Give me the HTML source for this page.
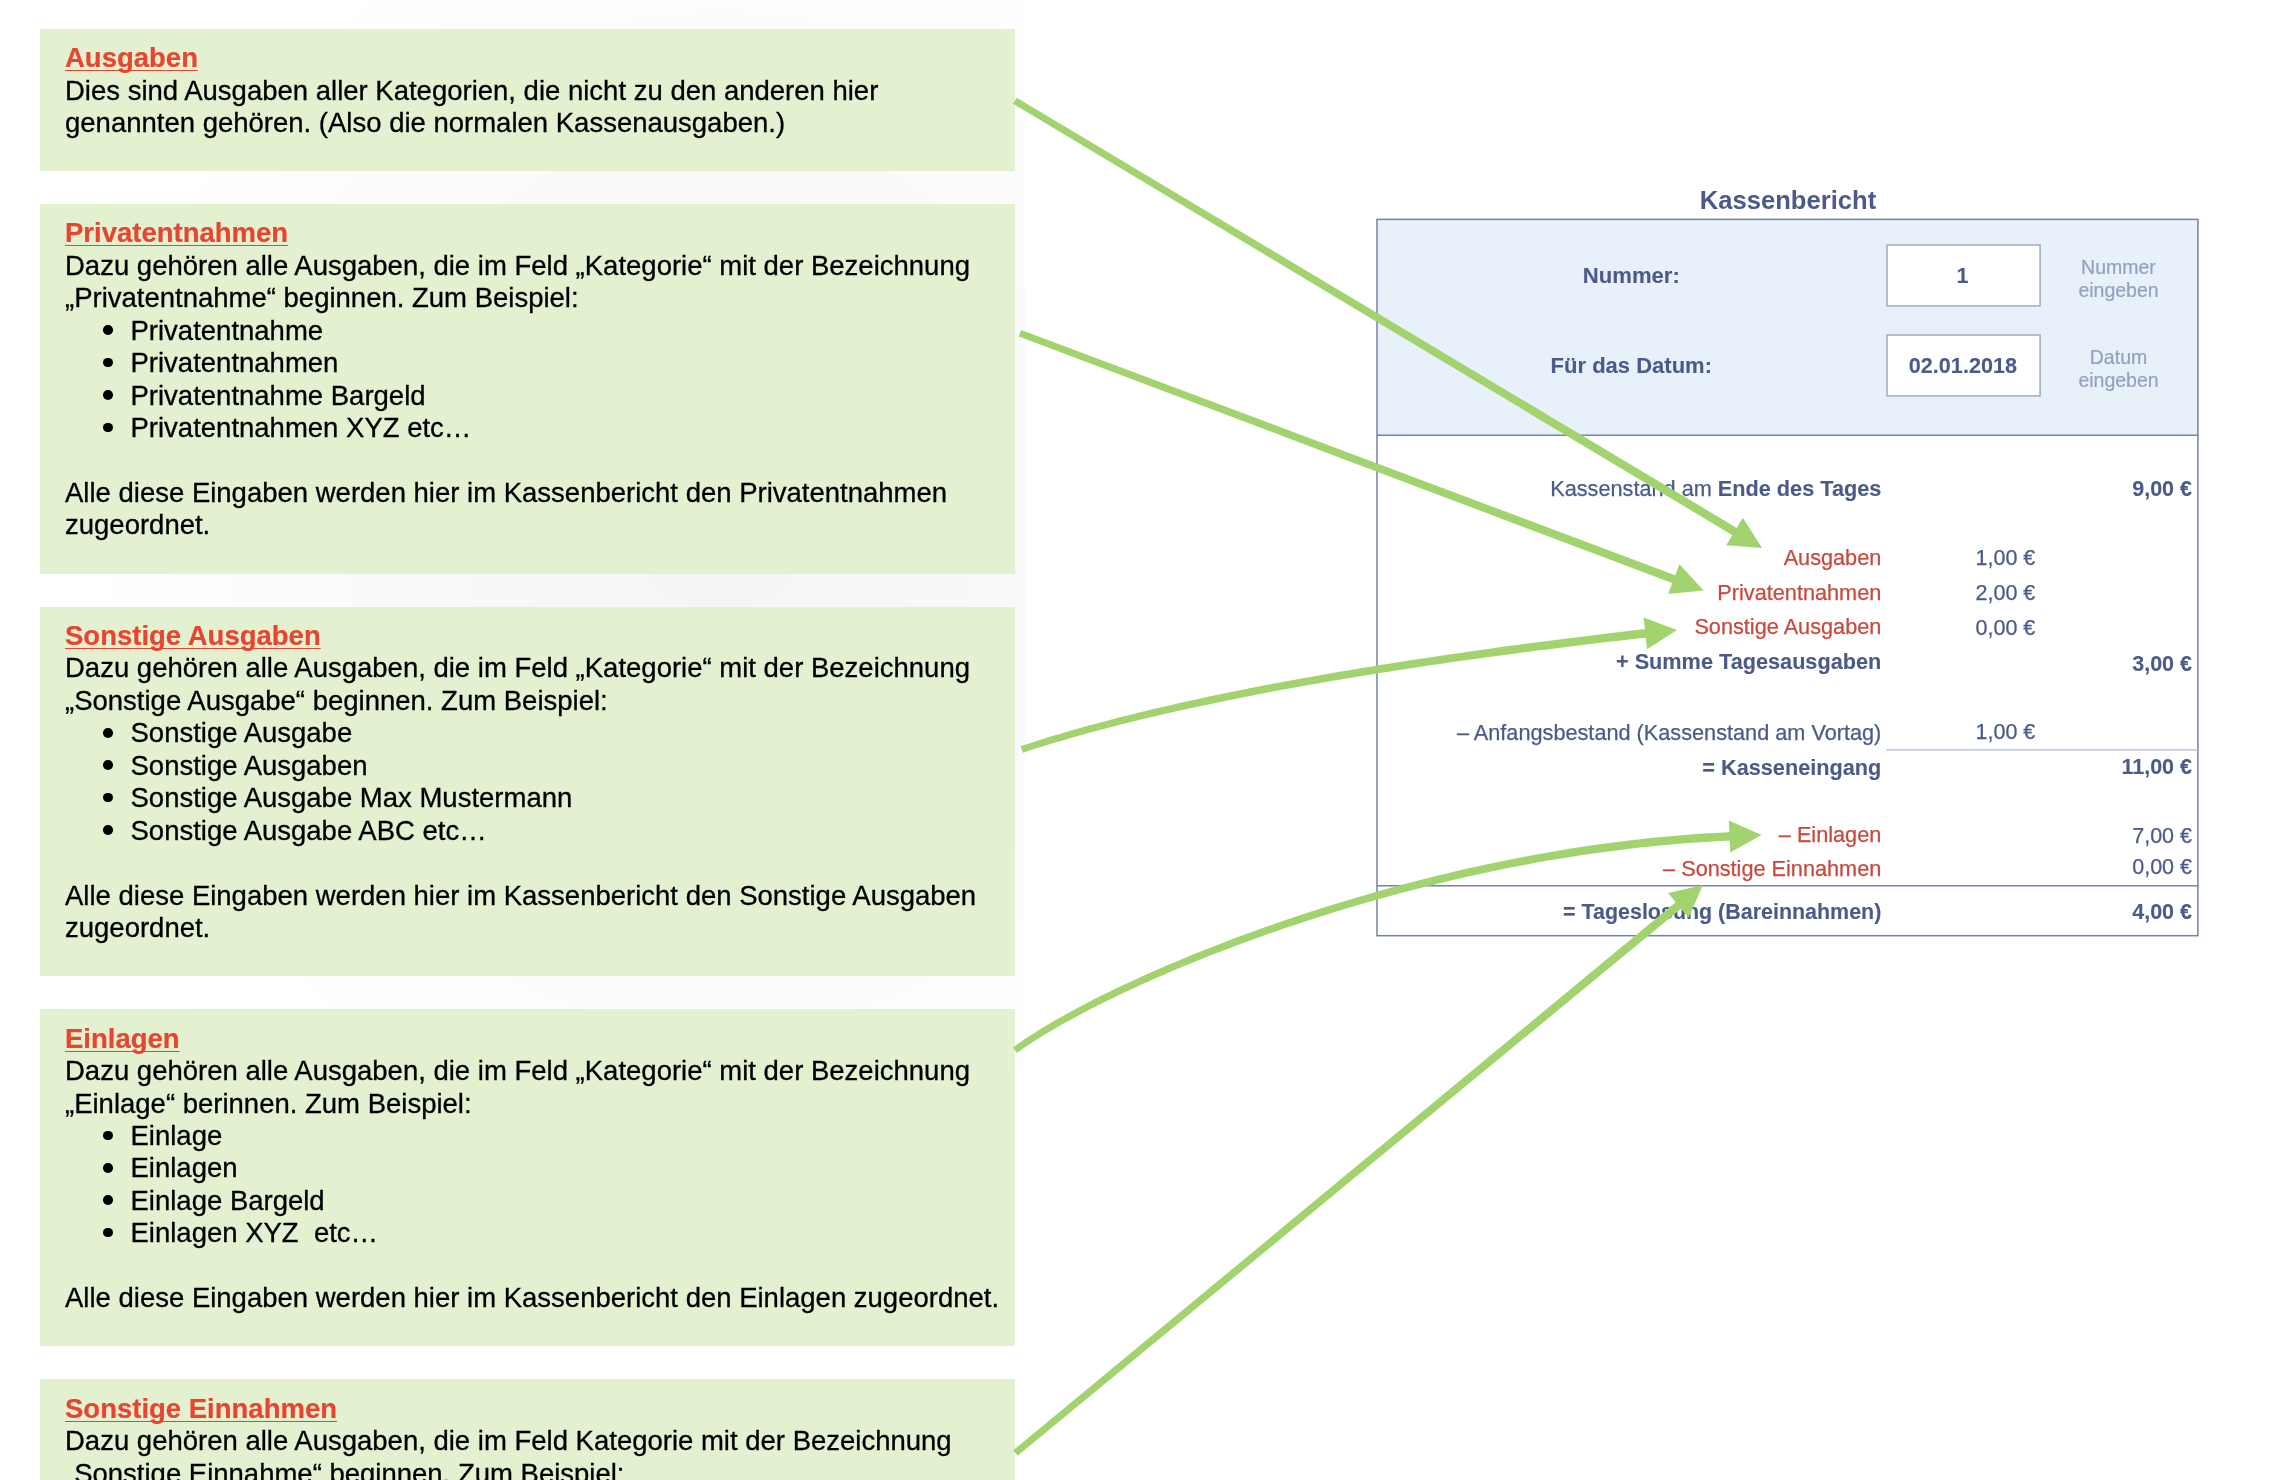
<!DOCTYPE html>
<html lang="de"><head><meta charset="utf-8"><title>Kassenbericht</title>
<style>
html,body{margin:0;padding:0;background:#fff;}
body{width:2276px;height:1480px;position:relative;overflow:hidden;font-family:"Liberation Sans",sans-serif;}
.abs{position:absolute;white-space:nowrap;}
.box{position:absolute;left:40px;width:975px;background:#e3f1d1;}
.t{position:absolute;left:65px;white-space:nowrap;font-size:27.5px;line-height:32.45px;color:#000;-webkit-text-stroke:0.3px #000;}
.h{font-weight:bold;color:#e8442f;-webkit-text-stroke:0.2px #e8442f;text-decoration:underline;text-decoration-thickness:1.4px;text-underline-offset:2.6px;text-decoration-skip-ink:none;}
.li{left:130.5px;}
.dot{position:absolute;width:9.6px;height:9.6px;border-radius:50%;background:#000;left:103px;}
.p{position:absolute;white-space:nowrap;font-size:21.5px;line-height:26px;color:#4b5a89;-webkit-text-stroke:0.25px currentColor;}
.p.b,.p b{-webkit-text-stroke:0.1px currentColor;}
.r{text-align:right;}
.b{font-weight:bold;}
.red{color:#c8493e;}
.hint{position:absolute;white-space:nowrap;font-size:19.5px;line-height:23.6px;color:#93a1c0;-webkit-text-stroke:0.2px currentColor;text-align:center;width:120px;left:2058.5px;}
.inp{position:absolute;left:1886.1px;width:154.8px;height:62.7px;background:#fff;border:1.7px solid #9aa8c0;box-sizing:border-box;}
</style></head><body><div id="root" style="position:absolute;left:0;top:0;width:2276px;height:1480px;will-change:transform;">

<div style="position:absolute;left:0;top:0;width:1025px;height:1480px;background:radial-gradient(ellipse 640px 660px at 720px 520px,rgba(0,0,0,0.042),rgba(0,0,0,0) 100%);"></div>
<div class="box" style="top:29px;height:142.3px"></div>
<div class="t h" style="top:42.42px">Ausgaben</div>
<div class="t" style="top:74.88px">Dies sind Ausgaben aller Kategorien, die nicht zu den anderen hier</div>
<div class="t" style="top:107.33px">genannten gehören. (Also die normalen Kassenausgaben.)</div>
<div class="box" style="top:204px;height:369.5px"></div>
<div class="t h" style="top:217.43px">Privatentnahmen</div>
<div class="t" style="top:249.88px">Dazu gehören alle Ausgaben, die im Feld „Kategorie“ mit der Bezeichnung</div>
<div class="t" style="top:282.32px">„Privatentnahme“ beginnen. Zum Beispiel:</div>
<div class="dot" style="top:325.35px"></div><div class="t li" style="top:314.77px">Privatentnahme</div>
<div class="dot" style="top:357.80px"></div><div class="t li" style="top:347.22px">Privatentnahmen</div>
<div class="dot" style="top:390.25px"></div><div class="t li" style="top:379.68px">Privatentnahme Bargeld</div>
<div class="dot" style="top:422.70px"></div><div class="t li" style="top:412.12px">Privatentnahmen XYZ etc…</div>
<div class="t" style="top:477.03px">Alle diese Eingaben werden hier im Kassenbericht den Privatentnahmen</div>
<div class="t" style="top:509.47px">zugeordnet.</div>
<div class="box" style="top:606.6px;height:369.5px"></div>
<div class="t h" style="top:620.02px">Sonstige Ausgaben</div>
<div class="t" style="top:652.48px">Dazu gehören alle Ausgaben, die im Feld „Kategorie“ mit der Bezeichnung</div>
<div class="t" style="top:684.92px">„Sonstige Ausgabe“ beginnen. Zum Beispiel:</div>
<div class="dot" style="top:727.95px"></div><div class="t li" style="top:717.38px">Sonstige Ausgabe</div>
<div class="dot" style="top:760.40px"></div><div class="t li" style="top:749.82px">Sonstige Ausgaben</div>
<div class="dot" style="top:792.85px"></div><div class="t li" style="top:782.27px">Sonstige Ausgabe Max Mustermann</div>
<div class="dot" style="top:825.30px"></div><div class="t li" style="top:814.73px">Sonstige Ausgabe ABC etc…</div>
<div class="t" style="top:879.62px">Alle diese Eingaben werden hier im Kassenbericht den Sonstige Ausgaben</div>
<div class="t" style="top:912.07px">zugeordnet.</div>
<div class="box" style="top:1009.2px;height:336.70000000000005px"></div>
<div class="t h" style="top:1022.62px">Einlagen</div>
<div class="t" style="top:1055.08px">Dazu gehören alle Ausgaben, die im Feld „Kategorie“ mit der Bezeichnung</div>
<div class="t" style="top:1087.53px">„Einlage“ berinnen. Zum Beispiel:</div>
<div class="dot" style="top:1130.55px"></div><div class="t li" style="top:1119.97px">Einlage</div>
<div class="dot" style="top:1163.00px"></div><div class="t li" style="top:1152.42px">Einlagen</div>
<div class="dot" style="top:1195.45px"></div><div class="t li" style="top:1184.88px">Einlage Bargeld</div>
<div class="dot" style="top:1227.90px"></div><div class="t li" style="top:1217.33px">Einlagen XYZ&nbsp; etc…</div>
<div class="t" style="top:1282.23px">Alle diese Eingaben werden hier im Kassenbericht den Einlagen zugeordnet.</div>
<div class="box" style="top:1379.4px;height:120.59999999999991px"></div>
<div class="t h" style="top:1392.83px">Sonstige Einnahmen</div>
<div class="t" style="top:1425.28px">Dazu gehören alle Ausgaben, die im Feld Kategorie mit der Bezeichnung</div>
<div class="t" style="top:1457.73px">„Sonstige Einnahme“ beginnen. Zum Beispiel:</div>
<div class="dot" style="top:1500.75px"></div><div class="t li" style="top:1490.17px">Sonstige Einnahme</div>
<div class="abs b" style="left:1588px;width:400px;text-align:center;font-size:25.6px;line-height:30px;color:#4b5a89;top:185.35px">Kassenbericht</div>
<svg class="abs" style="left:0;top:0" width="2276" height="1480" viewBox="0 0 2276 1480">
<rect x="1377.0" y="219.4" width="820.9" height="716.3" fill="#fff"/>
<rect x="1377.0" y="219.4" width="820.9" height="215.9" fill="#e8f1fa"/>
<g fill="none" stroke="#7384a3" stroke-width="1.5">
<rect x="1377.0" y="219.4" width="820.9" height="716.3"/>
<path d="M1377.0,435.3 H2197.9 M1377.0,885.7 H2197.9"/>
</g>
<path d="M1886,749.8 H2197.9" stroke="#aebad2" stroke-width="1.3" fill="none"/>
<g fill="#fff" stroke="#9eabc3" stroke-width="1.5">
<rect x="1887" y="245" width="153.1" height="60.9"/>
<rect x="1887" y="335" width="153.1" height="60.9"/>
</g>
</svg>
<div class="p b" style="left:1431.3px;width:400px;text-align:center;top:263.45px;font-size:22.1px;">Nummer:</div>
<div class="p b" style="left:1431.3px;width:400px;text-align:center;top:353.45px;font-size:22.0px;">Für das Datum:</div>
<div class="p b" style="left:1762.6px;width:400px;text-align:center;top:263.20px;font-size:21.5px;">1</div>
<div class="p b" style="left:1762.9px;width:400px;text-align:center;top:353.25px;font-size:21.6px;">02.01.2018</div>
<div class="hint" style="top:255.55px">Nummer<br>eingeben</div>
<div class="hint" style="top:345.55px">Datum<br>eingeben</div>
<div class="p " style="right:394.7px;top:475.85px;font-size:21.7px;">Kassenstand am <b>Ende des Tages</b></div>
<div class="p b" style="right:84.0px;top:475.70px;font-size:21.5px;">9,00 €</div>
<div class="p red" style="right:394.7px;top:544.75px;font-size:21.7px;">Ausgaben</div>
<div class="p " style="right:240.7px;top:545.10px;font-size:21.5px;">1,00 €</div>
<div class="p red" style="right:394.7px;top:579.55px;font-size:21.7px;">Privatentnahmen</div>
<div class="p " style="right:240.7px;top:579.50px;font-size:21.5px;">2,00 €</div>
<div class="p red" style="right:394.7px;top:614.25px;font-size:21.7px;">Sonstige Ausgaben</div>
<div class="p " style="right:240.7px;top:614.50px;font-size:21.5px;">0,00 €</div>
<div class="p b" style="right:394.7px;top:648.75px;font-size:21.7px;">+ Summe Tagesausgaben</div>
<div class="p b" style="right:84.0px;top:650.80px;font-size:21.5px;">3,00 €</div>
<div class="p " style="right:394.7px;top:719.85px;font-size:21.7px;">– Anfangsbestand (Kassenstand am Vortag)</div>
<div class="p " style="right:240.7px;top:718.90px;font-size:21.5px;">1,00 €</div>
<div class="p b" style="right:394.7px;top:754.65px;font-size:21.7px;">= Kasseneingang</div>
<div class="p b" style="right:84.0px;top:754.30px;font-size:21.5px;">11,00 €</div>
<div class="p red" style="right:394.7px;top:822.45px;font-size:21.7px;">– Einlagen</div>
<div class="p " style="right:84.0px;top:823.20px;font-size:21.5px;">7,00 €</div>
<div class="p red" style="right:394.7px;top:855.65px;font-size:21.7px;">– Sonstige Einnahmen</div>
<div class="p " style="right:84.0px;top:854.30px;font-size:21.5px;">0,00 €</div>
<div class="p b" style="right:394.7px;top:899.45px;font-size:21.45px;">= Tageslosung (Bareinnahmen)</div>
<div class="p b" style="right:84.0px;top:899.10px;font-size:21.5px;">4,00 €</div>
<svg class="abs" style="left:0;top:0" width="2276" height="1480" viewBox="0 0 2276 1480"><g fill="#a3d36f" stroke="none">
<path d="M1013.1,103.7 L1373.6,319.9 L1734.1,536.2 L1738.4,528.9 L1377.6,313.3 L1016.7,97.7Z"/><path d="M1762.0,548.0 L1726.3,545.3 L1742.8,517.8Z"/>
<path d="M1018.8,336.5 L1346.5,460.2 L1674.1,583.8 L1677.1,575.9 L1349.2,453.0 L1021.2,330.1Z"/><path d="M1703.7,590.4 L1668.1,594.1 L1679.4,564.2Z"/>
<path d="M1022.9,752.7 L1028.1,751.0 L1033.4,749.3 L1038.8,747.6 L1044.2,745.9 L1049.7,744.2 L1055.2,742.5 L1060.9,740.9 L1066.5,739.2 L1072.3,737.5 L1078.1,735.9 L1084.0,734.3 L1090.0,732.6 L1096.0,731.0 L1102.0,729.4 L1108.2,727.8 L1114.4,726.2 L1120.7,724.6 L1127.0,723.0 L1133.4,721.4 L1139.9,719.8 L1146.4,718.2 L1153.0,716.7 L1159.7,715.1 L1166.4,713.5 L1173.2,712.0 L1180.1,710.5 L1187.0,708.9 L1194.0,707.4 L1201.1,705.9 L1208.2,704.4 L1215.4,702.9 L1222.7,701.4 L1230.0,699.9 L1237.4,698.4 L1244.8,696.9 L1252.3,695.4 L1259.9,694.0 L1267.6,692.5 L1275.3,691.1 L1283.1,689.6 L1290.9,688.2 L1298.8,686.7 L1306.8,685.3 L1314.8,683.9 L1322.9,682.5 L1331.1,681.1 L1339.3,679.7 L1347.6,678.3 L1356.0,676.9 L1364.4,675.5 L1372.9,674.2 L1381.5,672.8 L1390.1,671.4 L1398.8,670.1 L1407.6,668.7 L1416.4,667.4 L1425.3,666.1 L1434.2,664.8 L1443.3,663.4 L1452.4,662.1 L1461.5,660.8 L1470.7,659.5 L1480.0,658.2 L1489.3,657.0 L1498.8,655.7 L1508.2,654.4 L1517.8,653.2 L1527.4,651.9 L1537.1,650.6 L1546.8,649.4 L1556.6,648.2 L1566.5,646.9 L1576.4,645.7 L1586.4,644.5 L1596.5,643.3 L1606.6,642.1 L1616.8,640.9 L1627.0,639.7 L1637.4,638.5 L1647.8,637.4 L1646.8,628.9 L1636.4,630.1 L1626.1,631.3 L1615.8,632.5 L1605.6,633.8 L1595.5,635.0 L1585.4,636.2 L1575.4,637.5 L1565.4,638.7 L1555.6,640.0 L1545.7,641.2 L1536.0,642.5 L1526.3,643.8 L1516.7,645.1 L1507.1,646.3 L1497.7,647.6 L1488.2,648.9 L1478.9,650.2 L1469.6,651.6 L1460.4,652.9 L1451.2,654.2 L1442.1,655.5 L1433.1,656.9 L1424.1,658.2 L1415.2,659.6 L1406.4,660.9 L1397.6,662.3 L1388.9,663.7 L1380.3,665.1 L1371.7,666.5 L1363.2,667.8 L1354.7,669.3 L1346.4,670.7 L1338.0,672.1 L1329.8,673.5 L1321.6,674.9 L1313.5,676.4 L1305.4,677.8 L1297.5,679.2 L1289.5,680.7 L1281.7,682.2 L1273.9,683.6 L1266.2,685.1 L1258.5,686.6 L1250.9,688.1 L1243.4,689.6 L1235.9,691.1 L1228.5,692.6 L1221.2,694.1 L1213.9,695.6 L1206.7,697.1 L1199.5,698.7 L1192.5,700.2 L1185.4,701.8 L1178.5,703.3 L1171.6,704.9 L1164.8,706.5 L1158.1,708.0 L1151.4,709.6 L1144.7,711.2 L1138.2,712.8 L1131.7,714.4 L1125.3,716.0 L1118.9,717.6 L1112.6,719.2 L1106.4,720.9 L1100.2,722.5 L1094.1,724.2 L1088.1,725.8 L1082.1,727.5 L1076.2,729.1 L1070.4,730.8 L1064.6,732.5 L1058.9,734.2 L1053.2,735.8 L1047.6,737.5 L1042.1,739.2 L1036.7,741.0 L1031.3,742.7 L1026.0,744.4 L1020.7,746.1Z"/><path d="M1677.1,629.9 L1647.0,649.3 L1643.6,617.4Z"/>
<path d="M1017.0,1053.0 L1020.7,1050.3 L1024.6,1047.6 L1028.7,1044.8 L1033.0,1042.0 L1037.5,1039.1 L1042.2,1036.2 L1047.0,1033.2 L1052.1,1030.2 L1057.3,1027.2 L1062.7,1024.1 L1068.3,1021.0 L1074.0,1017.9 L1079.9,1014.7 L1086.0,1011.5 L1092.3,1008.2 L1098.7,1005.0 L1105.3,1001.7 L1112.0,998.4 L1118.9,995.1 L1125.9,991.7 L1133.1,988.4 L1140.4,985.0 L1147.9,981.7 L1155.5,978.3 L1163.3,974.9 L1171.2,971.5 L1179.2,968.1 L1187.4,964.7 L1195.7,961.4 L1204.1,958.0 L1212.7,954.6 L1221.4,951.2 L1230.1,947.9 L1239.0,944.5 L1248.1,941.2 L1257.2,937.9 L1266.4,934.6 L1275.8,931.4 L1285.2,928.1 L1294.8,924.9 L1304.5,921.7 L1314.2,918.5 L1324.1,915.4 L1334.0,912.3 L1344.0,909.3 L1354.1,906.2 L1364.3,903.3 L1374.6,900.3 L1385.0,897.4 L1395.4,894.6 L1405.9,891.8 L1416.5,889.0 L1427.2,886.3 L1437.9,883.7 L1448.7,881.1 L1459.5,878.5 L1470.4,876.1 L1481.4,873.7 L1492.4,871.3 L1503.4,869.0 L1514.6,866.8 L1525.7,864.7 L1536.9,862.6 L1548.2,860.6 L1559.5,858.7 L1570.8,856.9 L1582.1,855.1 L1593.5,853.5 L1604.9,851.9 L1616.4,850.4 L1627.8,849.0 L1639.3,847.6 L1650.8,846.4 L1662.4,845.3 L1673.9,844.2 L1685.4,843.3 L1697.0,842.5 L1708.6,841.7 L1720.1,841.1 L1731.7,840.6 L1731.3,832.1 L1719.7,832.7 L1708.1,833.3 L1696.4,834.1 L1684.8,834.9 L1673.2,835.9 L1661.6,837.0 L1650.0,838.1 L1638.4,839.4 L1626.9,840.7 L1615.3,842.2 L1603.8,843.7 L1592.3,845.3 L1580.9,847.0 L1569.5,848.8 L1558.1,850.7 L1546.8,852.7 L1535.5,854.7 L1524.2,856.8 L1513.0,859.0 L1501.8,861.2 L1490.7,863.5 L1479.7,865.9 L1468.7,868.3 L1457.7,870.8 L1446.8,873.4 L1436.0,876.0 L1425.2,878.7 L1414.5,881.4 L1403.9,884.2 L1393.4,887.1 L1382.9,890.0 L1372.5,892.9 L1362.2,895.9 L1351.9,898.9 L1341.8,901.9 L1331.7,905.0 L1321.8,908.2 L1311.9,911.3 L1302.1,914.5 L1292.4,917.7 L1282.8,921.0 L1273.3,924.3 L1263.9,927.6 L1254.7,930.9 L1245.5,934.2 L1236.5,937.6 L1227.5,941.0 L1218.7,944.4 L1210.0,947.7 L1201.4,951.2 L1193.0,954.6 L1184.6,958.0 L1176.4,961.4 L1168.4,964.8 L1160.4,968.2 L1152.6,971.7 L1145.0,975.1 L1137.5,978.5 L1130.1,981.9 L1122.9,985.3 L1115.8,988.6 L1108.9,992.0 L1102.1,995.3 L1095.5,998.6 L1089.0,1001.9 L1082.7,1005.2 L1076.6,1008.4 L1070.7,1011.7 L1064.9,1014.9 L1059.2,1018.0 L1053.8,1021.1 L1048.5,1024.2 L1043.4,1027.3 L1038.5,1030.3 L1033.8,1033.3 L1029.2,1036.2 L1024.9,1039.1 L1020.7,1041.9 L1016.7,1044.7 L1013.0,1047.4Z"/><path d="M1761.5,835.1 L1730.2,852.4 L1728.9,820.5Z"/>
<path d="M1017.7,1455.7 L1350.1,1181.6 L1682.6,907.5 L1677.2,900.9 L1345.2,1175.6 L1013.3,1450.3Z"/><path d="M1703.0,885.1 L1688.5,917.8 L1668.1,893.1Z"/>
</g></svg>
</div></body></html>
